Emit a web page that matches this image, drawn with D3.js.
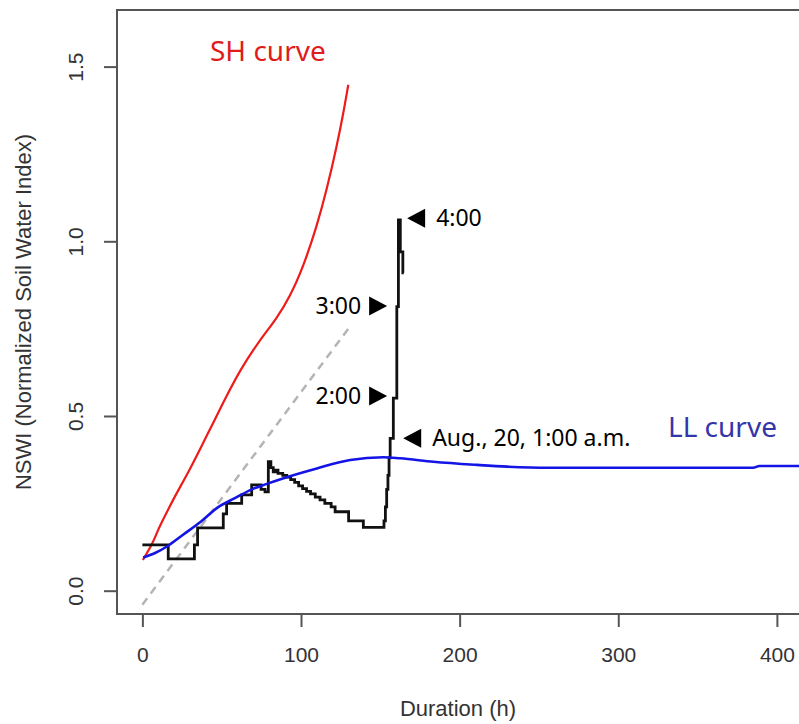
<!DOCTYPE html>
<html>
<head>
<meta charset="utf-8">
<script src="https://cdn.jsdelivr.net/npm/d3@7"></script>
<style>
  body { margin: 0; background: #fff; }
  svg { display: block; }
</style>
</head>
<body>
<div id="chart"></div>
<script>
var width = 799;
var height = 724;

// SH curve (red)
var shX = [0.3, 6.6, 9.8, 14.0, 20.3, 28.7, 37.1, 45.6, 53.9, 62.3, 70.8, 77.0, 84.0, 93.1, 101.5, 109.9, 116.2, 122.5, 126.7, 129.8];
var shY = [0.088, 0.136, 0.174, 0.212, 0.269, 0.336, 0.412, 0.489, 0.565, 0.636, 0.695, 0.735, 0.775, 0.842, 0.928, 1.042, 1.147, 1.271, 1.367, 1.448];

// LL curve (blue)
var llX = [0.5, 8, 16, 25, 37, 48, 58, 69, 78, 89, 110, 131, 152, 162.5, 183.5, 211, 230, 257, 385, 389, 430];
var llY = [0.095, 0.108, 0.128, 0.158, 0.198, 0.240, 0.264, 0.290, 0.305, 0.322, 0.350, 0.374, 0.382, 0.379, 0.369, 0.360, 0.355, 0.352, 0.352, 0.357, 0.357];

// observed NSWI (black, stepwise)
var obsX = [0, 16.3, 32.8, 34.8, 51.0, 53.1, 62.6, 68.9, 74.8, 77.3, 79.4, 81.0, 82.5, 84.0, 85.5, 88.5, 91.0, 93.5, 96.0, 98.5, 101.0, 103.5, 106.0, 109.0, 112.0, 115.0, 119.0, 121.5, 130.0, 139.3, 152.3, 153.2, 154.0, 154.8, 155.5, 156.2, 158.2, 160.4, 161.4, 162.6, 164.2, 164.8];
var obsY = [0.131, 0.091, 0.131, 0.180, 0.220, 0.250, 0.274, 0.303, 0.290, 0.283, 0.369, 0.352, 0.340, 0.345, 0.336, 0.330, 0.325, 0.318, 0.310, 0.300, 0.292, 0.284, 0.277, 0.268, 0.260, 0.250, 0.240, 0.226, 0.200, 0.181, 0.200, 0.240, 0.290, 0.330, 0.380, 0.436, 0.551, 0.813, 1.061, 0.970, 0.910, 0.910];

// gray dashed reference line
var refX = [0, 131];
var refY = [-0.04, 0.757];

// hour annotations
var annoLabels = ["4:00", "3:00", "2:00", "Aug., 20, 1:00 a.m."];
var annoX = [166.9, 154.3, 154.3, 164.4];
var annoY = [1.066, 0.815, 0.557, 0.436];
var annoDir = ["left", "right", "right", "left"];

var xTicks = [0, 100, 200, 300, 400];
var yTicks = [0, 0.5, 1.0, 1.5];

var margin = {top: 10, right: -35, bottom: 110, left: 117};
var w = width - margin.left - margin.right;
var h = height - margin.top - margin.bottom;

var svg = d3.select("#chart").append("svg")
    .attr("width", width)
    .attr("height", height);

var g = svg.append("g")
    .attr("transform", "translate(" + margin.left + "," + margin.top + ")");

var x = d3.scaleLinear().domain([-16, 436]).range([0, w]);
var y = d3.scaleLinear().domain([-0.0667, 1.662]).range([h, 0]);

svg.append("defs").append("clipPath").attr("id", "clip")
    .append("rect").attr("width", w).attr("height", h);

var plot = g.append("g").attr("clip-path", "url(#clip)");

function zipXY(xs, ys) {
    return xs.map((v, i) => [v, ys[i]]);
}

var line = d3.line().x(d => x(d[0])).y(d => y(d[1]));

plot.append("path")
    .datum(zipXY(refX, refY))
    .attr("d", line)
    .attr("fill", "none")
    .attr("stroke", "#b4b4b4")
    .attr("stroke-width", 2.5)
    .attr("stroke-dasharray", "8,6");

plot.append("path")
    .datum(zipXY(shX, shY))
    .attr("d", d3.line().x(d => x(d[0])).y(d => y(d[1])).curve(d3.curveBasis))
    .attr("fill", "none")
    .attr("stroke", "#ee1b1b")
    .attr("stroke-width", 2.2);

plot.append("path")
    .datum(zipXY(obsX, obsY))
    .attr("d", d3.line().x(d => x(d[0])).y(d => y(d[1])).curve(d3.curveStepAfter))
    .attr("fill", "none")
    .attr("stroke", "#111")
    .attr("stroke-width", 2.8);

plot.append("path")
    .datum(zipXY(llX, llY))
    .attr("d", d3.line().x(d => x(d[0])).y(d => y(d[1])).curve(d3.curveMonotoneX))
    .attr("fill", "none")
    .attr("stroke", "#1414e6")
    .attr("stroke-width", 2.6);

// box
g.append("rect")
    .attr("width", w).attr("height", h)
    .attr("fill", "none")
    .attr("stroke", "#555")
    .attr("stroke-width", 2);

// axes
var xAxis = g.append("g")
    .attr("transform", "translate(0," + h + ")")
    .call(d3.axisBottom(x).tickValues(xTicks).tickSize(13).tickPadding(20).tickFormat(d3.format("d")));
xAxis.select(".domain").remove();
xAxis.selectAll("line").attr("stroke", "#555").attr("stroke-width", 2);
xAxis.selectAll("text")
    .attr("fill", "#333")
    .style("font-family", "'Liberation Sans', Arial, sans-serif")
    .style("font-size", "21px");

var yAxis = g.append("g")
    .call(d3.axisLeft(y).tickValues(yTicks).tickSize(13).tickFormat(d3.format(".1f")));
yAxis.select(".domain").remove();
yAxis.selectAll("line").attr("stroke", "#555").attr("stroke-width", 2);
yAxis.selectAll("text")
    .attr("x", null).attr("dy", null)
    .attr("text-anchor", "middle")
    .attr("transform", "translate(-34,0) rotate(-90)")
    .attr("fill", "#333")
    .style("font-family", "'Liberation Sans', Arial, sans-serif")
    .style("font-size", "21px");

// axis titles
svg.append("text")
    .attr("x", 458).attr("y", 716)
    .attr("text-anchor", "middle")
    .attr("fill", "#333")
    .style("font-family", "'Liberation Sans', Arial, sans-serif")
    .style("font-size", "22px")
    .text("Duration (h)");

svg.append("text")
    .attr("transform", "translate(31," + (margin.top + h / 2) + ") rotate(-90)")
    .attr("text-anchor", "middle")
    .attr("fill", "#333")
    .style("font-family", "'Liberation Sans', Arial, sans-serif")
    .style("font-size", "22px")
    .text("NSWI (Normalized Soil Water Index)");

// curve labels
g.append("text")
    .attr("x", 210 - margin.left).attr("y", 61 - margin.top)
    .attr("fill", "#e01b1b")
    .style("font-family", "'Noto Sans', sans-serif")
    .style("font-size", "28px")
    .text("SH curve");

g.append("text")
    .attr("x", 668 - margin.left).attr("y", 437 - margin.top)
    .attr("fill", "#3535aa")
    .style("font-family", "'Noto Sans', sans-serif")
    .style("font-size", "28px")
    .text("LL curve");

// hour markers
annoLabels.forEach((lab, i) => {
    var px = x(annoX[i]), py = y(annoY[i]);
    var tri, tx, anchor;
    if (annoDir[i] === "left") {
        tri = [[px, py], [px + 18, py - 9.5], [px + 18, py + 9.5]];
        tx = px + 29; anchor = "start";
    } else {
        tri = [[px, py], [px - 18, py - 9.5], [px - 18, py + 9.5]];
        tx = px - 26; anchor = "end";
    }
    g.append("path")
        .attr("d", "M" + tri.map(p => p.join(",")).join("L") + "Z")
        .attr("fill", "#000");
    g.append("text")
        .attr("x", tx).attr("y", py + 8)
        .attr("text-anchor", anchor)
        .attr("fill", "#000")
        .style("font-family", "'Noto Sans', sans-serif")
        .style("font-size", "23px")
        .text(lab);
});
</script>
</body>
</html>
